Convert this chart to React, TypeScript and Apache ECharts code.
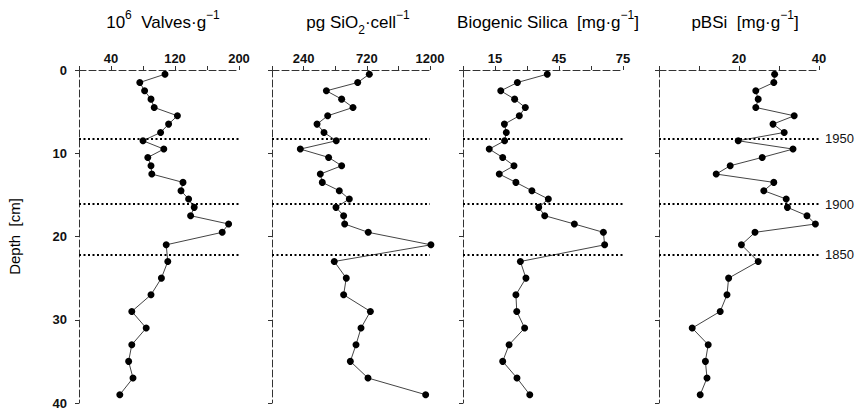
import React, { useEffect, useRef } from "react";
import * as echarts from "echarts";

// Depth of each sample [cm]
const depth = [
  0.5, 1.5, 2.5, 3.5, 4.5, 5.5, 6.5, 7.5, 8.5, 9.5, 10.5, 11.5, 12.5, 13.5, 14.5,
  15.5, 16.5, 17.5, 18.5, 19.5, 21, 23, 25, 27, 29, 31, 33, 35, 37, 39,
];

// 10^6 valves per g
const valves = [
  107.5, 76, 82, 90, 94, 123, 112, 102, 80, 106, 86, 90, 91, 130, 127.5, 137, 144,
  139.5, 187, 179, 109, 111, 103, 90, 66, 84, 66, 62, 67.5, 51,
];

// pg SiO2 per cell
const pgSiO2 = [
  739, 651, 413, 529, 615, 423, 342, 395, 488, 215, 430, 529, 367, 382, 511, 587,
  486, 544, 552, 731, 1207, 473, 564, 544, 747, 676, 638, 595, 729, 1167,
];

// Biogenic silica [mg/g]
const bioSilica = [
  39.5, 25.5, 17.7, 24.2, 29.2, 26.4, 19.4, 20.3, 19.5, 12.3, 18.6, 23.9, 17, 24.8,
  32.3, 40, 35.5, 38.3, 52.2, 65.8, 66.4, 26.9, 29.5, 24.8, 25.2, 28.9, 21.6, 18.6,
  25.3, 31.3,
];

// pBSi [mg/g]
const pBSi = [
  28.9, 28.7, 24.2, 24.8, 24.2, 33.8, 28.5, 31.3, 19.8, 33.5, 25.8, 17.8, 14.3,
  28.7, 26.2, 31.8, 32.1, 37, 39.1, 24, 20.6, 24.8, 17.4, 17, 15.3, 8.3, 12.3, 11.6,
  12, 10.3,
];

// Dated horizons
const horizonDepths = [8.2, 16.1, 22.2];
const horizonYears = ["1950", "1900", "1850"];

// Axis scales and labelled ticks
const valvesTicks = [40, 120, 200];
const pgTicks = [240, 720, 1200];
const bioTicks = [15, 45, 75];
const pbsiTicks = [20, 40];
const depthTicks = [0, 10, 20, 30, 40];

const FONT = "Liberation Sans";

const panels = [
  { data: valves, max: 200, interval: 40, labels: valvesTicks, left: 79, width: 160 },
  { data: pgSiO2, max: 1200, interval: 240, labels: pgTicks, left: 272, width: 158 },
  { data: bioSilica, max: 75, interval: 15, labels: bioTicks, left: 463, width: 160 },
  { data: pBSi, max: 40, interval: 10, labels: pbsiTicks, left: 659, width: 160 },
];

const titles = [
  { x: 163, text: "{m|10}{s|6}{m|  Valves·g}{s|−1}" },
  { x: 358, text: "{m|pg SiO}{b|2}{m|·cell}{s|−1}" },
  { x: 548, text: "{m|Biogenic Silica  [mg·g}{s|−1}{m|]}" },
  { x: 745, text: "{m|pBSi  [mg·g}{s|−1}{m|]}" },
];

export default function App() {
  const ref = useRef<HTMLDivElement>(null);
  useEffect(() => {
    if (!ref.current) return;
    const chart = echarts.init(ref.current, null, { renderer: "svg" });
    const axisColor = "#333";
    const rich = {
      m: { fontSize: 17, fontFamily: FONT, lineHeight: 27, fill: "#000", verticalAlign: "middle" },
      s: { fontSize: 12, fontFamily: FONT, lineHeight: 12, fill: "#000", verticalAlign: "top" },
      b: { fontSize: 12, fontFamily: FONT, lineHeight: 12, fill: "#000", verticalAlign: "bottom" },
    };
    const option: any = {
      animation: false,
      backgroundColor: "#fff",
      grid: panels.map((p) => ({ left: p.left, width: p.width, top: 70, height: 333 })),
      xAxis: panels.map((p, i) => ({
        type: "value",
        gridIndex: i,
        position: "top",
        min: 0,
        max: p.max,
        interval: p.interval,
        splitLine: { show: false },
        axisLine: { show: true, lineStyle: { color: axisColor, width: 1, type: [7, 3] } },
        axisTick: { show: true, length: 4, lineStyle: { color: axisColor } },
        axisLabel: {
          margin: 5,
          fontSize: 13,
          fontFamily: FONT,
          fontWeight: "bold",
          color: "#111",
          formatter: (v: number) => (p.labels.includes(v) ? String(v) : ""),
        },
      })),
      yAxis: panels.map((p, i) => ({
        type: "value",
        gridIndex: i,
        inverse: true,
        min: depthTicks[0],
        max: depthTicks[depthTicks.length - 1],
        interval: 10,
        splitLine: { show: false },
        axisLine: { show: true, onZero: false, lineStyle: { color: axisColor, width: 1, type: [7, 3] } },
        axisTick: { show: true, length: 4, lineStyle: { color: axisColor } },
        axisLabel: {
          show: i === 0,
          margin: 12,
          fontSize: 13,
          fontFamily: FONT,
          fontWeight: "bold",
          color: "#111",
        },
        name: i === 0 ? "Depth  [cm]" : "",
        nameLocation: "middle",
        nameGap: 57,
        nameRotate: 90,
        nameTextStyle: { fontSize: 15, fontFamily: FONT, color: "#000" },
      })),
      graphic: titles.map((t) => ({
        type: "text",
        x: t.x,
        y: 22,
        style: { text: t.text, rich, align: "center", verticalAlign: "middle", fill: "#000" },
      })),
      series: panels.map((p, i) => ({
        type: "line",
        xAxisIndex: i,
        yAxisIndex: i,
        clip: false,
        data: depth.map((d, k) => [p.data[k], d]),
        symbol: "circle",
        symbolSize: 7,
        itemStyle: { color: "#000" },
        lineStyle: { color: "#444", width: 1 },
        markLine: {
          silent: true,
          symbol: ["none", "none"],
          lineStyle: { color: "#000", width: 2, type: [2, 2.5] },
          label: {
            show: i === 3,
            position: "end",
            distance: 6,
            formatter: "{b}",
            fontSize: 13,
            fontFamily: FONT,
            color: "#111",
          },
          data: horizonDepths.map((d, k) => ({ yAxis: d, name: horizonYears[k] })),
        },
      })),
    };
    chart.setOption(option);
    return () => chart.dispose();
  }, []);
  return (
    <div
      ref={ref}
      style={{ position: "absolute", left: 0, top: 0, width: 859, height: 411, background: "#fff" }}
    />
  );
}
